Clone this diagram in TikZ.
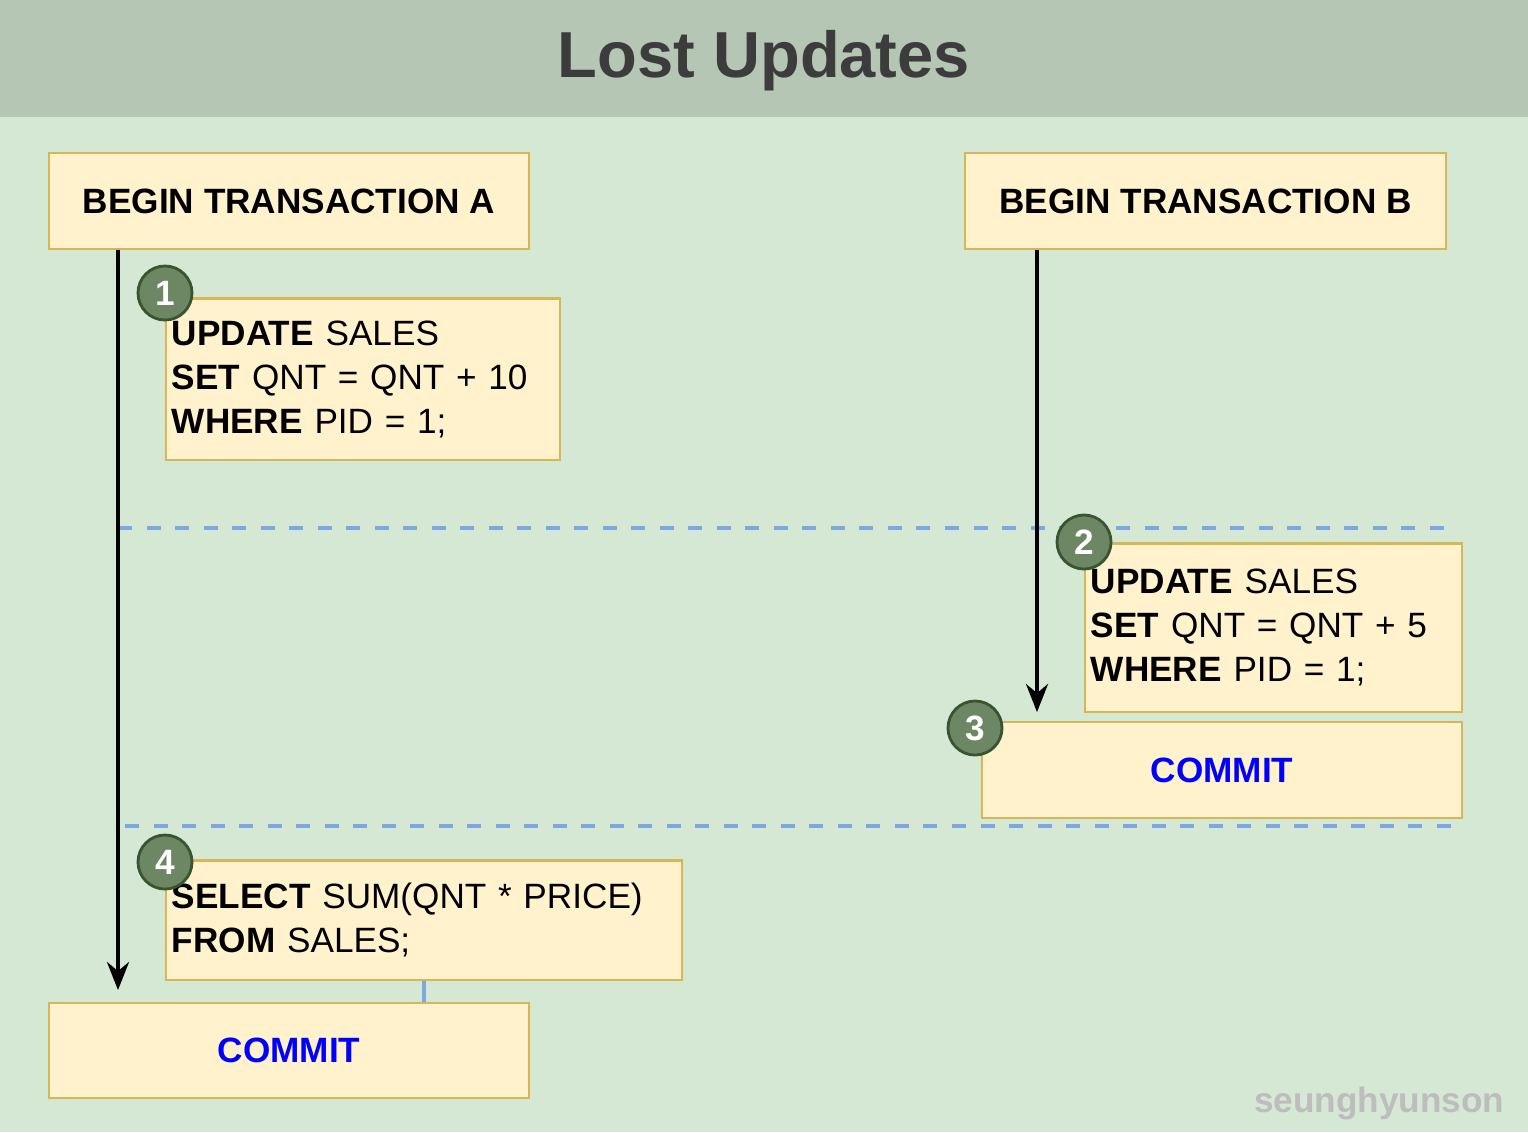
\documentclass[tikz,border=0pt]{standalone}
\usepackage{xcolor}
\usepackage{fontspec}
\setmainfont{Liberation Sans}
\usepackage{tikz}
\usetikzlibrary{positioning,arrows.meta}
\definecolor{pagebg}{HTML}{D5E8D4}
\definecolor{headbg}{HTML}{B5C7B4}
\definecolor{titletext}{HTML}{3C3C3C}
\definecolor{boxfill}{HTML}{FFF2CC}
\definecolor{boxline}{HTML}{D6B656}
\definecolor{numfill}{HTML}{6D8764}
\definecolor{numline}{HTML}{3A5431}
\definecolor{sepline}{HTML}{7EA6E0}
\definecolor{commitblue}{HTML}{0000FF}
\definecolor{markgray}{HTML}{BDBDBD}

\begin{document}
\begin{tikzpicture}[
        x=0.01cm, y=-0.01cm,
        trnbox/.style={
            draw=boxline,
            fill=boxfill,
            line width=0.6pt,
            minimum width=4.8cm,
            minimum height=0.96cm,
            font=\fontsize{10}{12}\selectfont\bfseries
        },
        sqlbox/.style={
            draw=boxline,
            fill=boxfill,
            line width=0.6pt,
            align=left,
            inner xsep=0.06cm,
            inner ysep=0pt,
            font=\fontsize{10}{12.5}\selectfont
        },
        stepnum/.style={
            circle,
            draw=numline,
            fill=numfill,
            line width=0.8pt,
            minimum size=0.54cm,
            inner sep=0pt,
            text=white,
            font=\fontsize{10}{12}\selectfont\bfseries
        },
        flow/.style={
            -{Stealth[length=0.28cm,width=0.22cm]},
            line width=1.1pt,
            black
        },
        split/.style={
            draw=sepline,
            line width=1.1pt,
            dash pattern=on 0.14cm off 0.145cm
        }
    ]

    % page and header band
    \fill[pagebg] (0,0) rectangle (1528,1132);
    \fill[headbg] (0,0) rectangle (1528,117);
    \node[font=\fontsize{18.5}{22}\selectfont\bfseries, text=titletext] (title) at (764,61) {Lost Updates};

    % transactions
    \node[trnbox] (beginA) at (289,201) {BEGIN TRANSACTION A};
    \node[trnbox, minimum width=4.81cm] (beginB) at (1205.5,201) {BEGIN TRANSACTION B};

    \node[sqlbox, text width=3.82cm, minimum height=1.61cm] (upA) at (363,379)
        {\textbf{UPDATE} SALES\\\textbf{SET} QNT = QNT + 10\\\textbf{WHERE} PID = 1;};
    \node[sqlbox, text width=3.65cm, minimum height=1.68cm] (upB) at (1273.5,627.5)
        {\textbf{UPDATE} SALES\\\textbf{SET} QNT = QNT + 5\\\textbf{WHERE} PID = 1;};
    \node[trnbox] (commitB) at (1222,770) {\textcolor{commitblue}{COMMIT}};
    \node[sqlbox, text width=5.04cm, minimum height=1.19cm] (selA) at (424,920)
        {\textbf{SELECT} SUM(QNT * PRICE)\\\textbf{FROM} SALES;};
    \node[trnbox, minimum height=0.95cm] (commitA) at (289,1050.5) {\textcolor{commitblue}{COMMIT}};

    % time separators
    \coordinate (sepAl) at (118,528);
    \coordinate (sepAr) at (1458,528);
    \coordinate (sepBl) at (125,826);
    \coordinate (sepBr) at (1462,826);
    \draw[split] (sepAl) -- (sepAr);
    \draw[split] (sepBl) -- (sepBr);

    % timelines
    \coordinate (endA) at (118,990);
    \coordinate (endB) at (1037,712);
    \draw[flow] (beginA.south west -| endA) -- (endA);
    \draw[flow] (beginB.south west -| endB) -- (endB);
    \draw[sepline, line width=1.1pt] (selA.south) -- (commitA.north -| selA.south);

    % step numbers
    \node[stepnum] (n1) at (165,293) {1};
    \node[stepnum] (n2) at (1084,542) {2};
    \node[stepnum] (n3) at (975,728) {3};
    \node[stepnum] (n4) at (165,862) {4};

    \node[anchor=base east, inner sep=0pt, text=markgray, font=\fontsize{10}{12}\selectfont\bfseries] (mark) at (1505,1112) {seunghyunson};

    \end{tikzpicture}
\end{document}
